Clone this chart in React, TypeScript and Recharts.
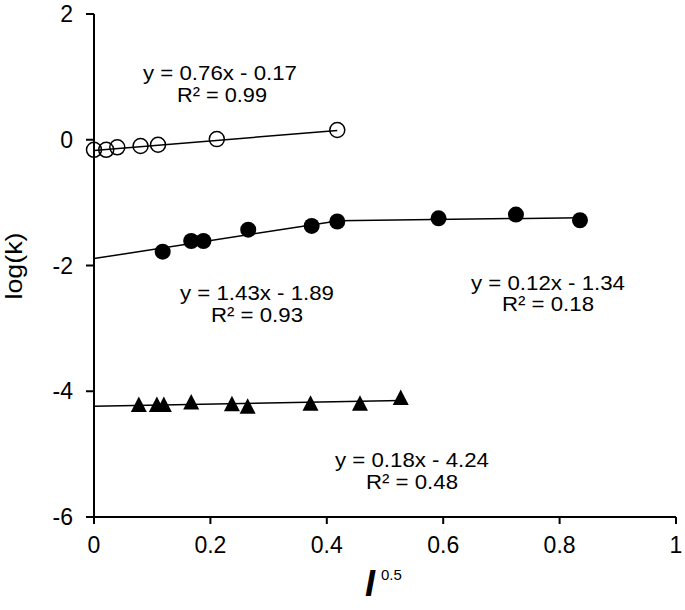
import { ScatterChart, Scatter, XAxis, YAxis, ReferenceLine } from 'recharts'

// open circles
const openX = [0.0, 0.021, 0.04, 0.08, 0.11, 0.211, 0.418]
const openY = [-0.16, -0.16, -0.12, -0.1, -0.08, 0.01, 0.155]

// filled circles
const filledX = [0.118, 0.167, 0.188, 0.265, 0.374, 0.418, 0.592, 0.725, 0.835]
const filledY = [-1.78, -1.61, -1.61, -1.43, -1.37, -1.3, -1.25, -1.19, -1.28]

// filled triangles
const triX = [0.077, 0.108, 0.12, 0.167, 0.237, 0.264, 0.372, 0.457, 0.527]
const triY = [-4.21, -4.21, -4.21, -4.17, -4.2, -4.24, -4.19, -4.19, -4.1]

// trendlines as printed on the chart
const fitSlopes = [0.76, 1.43, 0.12, 0.18]
const fitIntercepts = [-0.17, -1.89, -1.34, -4.24]
const fitStart = [0, 0, 0.418, 0]
const fitEnd = [0.418, 0.418, 0.835, 0.527]

const xTicks = [0, 0.2, 0.4, 0.6, 0.8, 1]
const yTicks = [-6, -4, -2, 0, 2]

const toPoints = (xs: number[], ys: number[]) => xs.map((x, i) => ({ x, y: ys[i] }))

const font = "'Liberation Sans', Arial, sans-serif"

const OpenCircle = (p: any) => (
  <circle cx={p.cx} cy={p.cy} r={7.5} fill="none" stroke="#000" strokeWidth={1.5} />
)
const FilledCircle = (p: any) => <circle cx={p.cx} cy={p.cy} r={8} fill="#000" />
const Triangle = (p: any) => (
  <path
    d={`M${p.cx},${p.cy - 8} L${p.cx + 8},${p.cy + 7.5} L${p.cx - 8},${p.cy + 7.5} Z`}
    fill="#000"
  />
)

const notes = [
  { x: 220, y: 72, text: 'y = 0.76x - 0.17', len: 154 },
  { x: 222, y: 94, text: 'R² = 0.99', len: 90 },
  { x: 257, y: 292, text: 'y = 1.43x - 1.89', len: 154 },
  { x: 257, y: 314, text: 'R² = 0.93', len: 92 },
  { x: 548, y: 282, text: 'y = 0.12x - 1.34', len: 154 },
  { x: 548, y: 303, text: 'R² = 0.18', len: 92 },
  { x: 412, y: 459, text: 'y = 0.18x - 4.24', len: 154 },
  { x: 412, y: 481, text: 'R² = 0.48', len: 92 },
]

export default function App() {
  return (
    <div style={{ position: 'absolute', left: 0, top: 0, width: 685, height: 610, background: '#fff' }}>
      <ScatterChart width={685} height={610} margin={{ top: 14, right: 9, left: 0, bottom: 0 }}>
        <XAxis
          type="number"
          dataKey="x"
          domain={[0, 1]}
          ticks={xTicks}
          interval={0}
          height={93}
          axisLine={{ stroke: '#000', strokeWidth: 2 }}
          tickLine={{ stroke: '#000', strokeWidth: 2 }}
          tickSize={7}
          tickMargin={13}
          tick={{ fill: '#000', fontSize: 23, fontFamily: font }}
        />
        <YAxis
          type="number"
          dataKey="y"
          domain={[-6, 2]}
          ticks={yTicks}
          interval={0}
          width={94}
          axisLine={{ stroke: '#000', strokeWidth: 2 }}
          tickLine={{ stroke: '#000', strokeWidth: 2 }}
          tickSize={8}
          tickMargin={13}
          tick={{ fill: '#000', fontSize: 23, fontFamily: font }}
        />
        {fitSlopes.map((m, i) => (
          <ReferenceLine
            key={i}
            ifOverflow="visible"
            stroke="#000"
            strokeWidth={1.5}
            segment={[
              { x: fitStart[i], y: m * fitStart[i] + fitIntercepts[i] },
              { x: fitEnd[i], y: m * fitEnd[i] + fitIntercepts[i] },
            ]}
          />
        ))}
        <Scatter data={toPoints(openX, openY)} shape={OpenCircle} isAnimationActive={false} />
        <Scatter data={toPoints(filledX, filledY)} shape={FilledCircle} isAnimationActive={false} />
        <Scatter data={toPoints(triX, triY)} shape={Triangle} isAnimationActive={false} />
      </ScatterChart>
      <svg
        width={685}
        height={610}
        style={{ position: 'absolute', left: 0, top: 0, pointerEvents: 'none' }}
        fontFamily={font}
      >
        {notes.map((n, i) => (
          <text
            key={i}
            x={n.x}
            y={n.y + 7.5}
            textAnchor="middle"
            fontSize={21}
            fill="#000"
            textLength={n.len}
            lengthAdjust="spacingAndGlyphs"
          >
            {n.text}
          </text>
        ))}
        <text
          transform="translate(22,266) rotate(-90)"
          textAnchor="middle"
          fontSize={24}
          fill="#000"
          textLength={67}
          lengthAdjust="spacingAndGlyphs"
        >
          log(k)
        </text>
        <text x={365} y={596} fontSize={36} fontWeight="bold" fontStyle="italic" fill="#000">
          I
        </text>
        <text x={381} y={580} fontSize={15} fill="#000">
          0.5
        </text>
      </svg>
    </div>
  )
}
